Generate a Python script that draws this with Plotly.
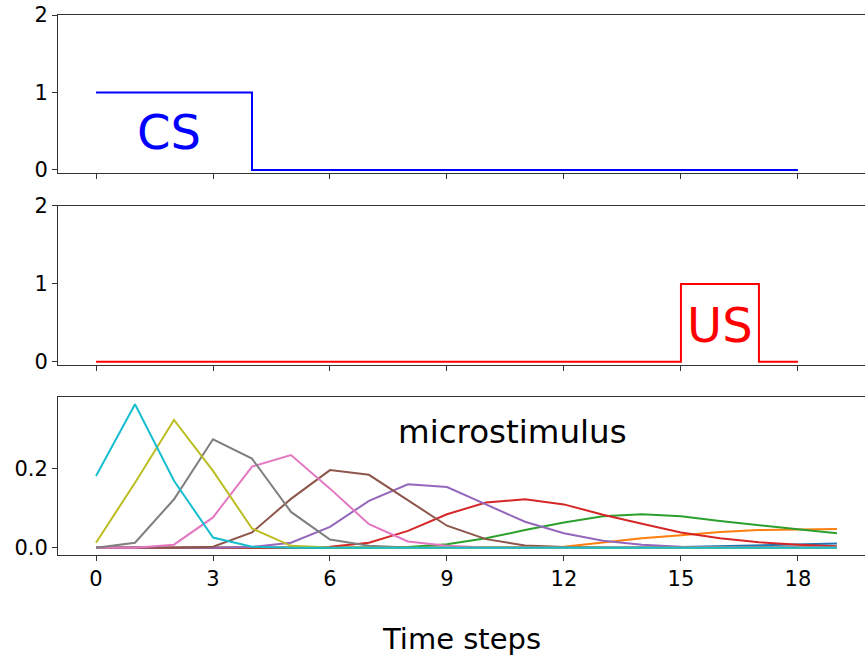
import plotly.graph_objects as go

# ---- data ----
t_stim = list(range(19))
cs = [1, 1, 1, 1] + [0] * 15
us = [0] * 15 + [1, 1, 0, 0]

t_micro = list(range(20))
micro_blue   = [0, 0, 0, 0, 0, 0, 0, 0, 0, 0, 0, 0, 0, 0, 0.001, 0.002, 0.004, 0.006, 0.008, 0.011]
micro_orange = [0, 0, 0, 0, 0, 0, 0, 0, 0, 0, 0, 0.001, 0.003, 0.013, 0.024, 0.032, 0.040, 0.045, 0.047, 0.048]
micro_green  = [0, 0, 0, 0, 0, 0, 0, 0, 0.002, 0.009, 0.024, 0.045, 0.064, 0.080, 0.085, 0.080, 0.068, 0.057, 0.047, 0.037]
micro_red    = [0, 0, 0, 0, 0, 0, 0.003, 0.013, 0.043, 0.085, 0.115, 0.123, 0.110, 0.084, 0.061, 0.039, 0.024, 0.014, 0.008, 0.004]
micro_purple = [0, 0, 0, 0, 0.002, 0.013, 0.053, 0.119, 0.161, 0.154, 0.110, 0.066, 0.037, 0.018, 0.008, 0.003, 0.002, 0.001, 0.001, 0.001]
micro_brown  = [0, 0, 0, 0.003, 0.039, 0.124, 0.197, 0.185, 0.120, 0.056, 0.022, 0.006, 0.002, 0, 0, 0, 0, 0, 0, 0]
micro_pink   = [0, 0, 0.008, 0.077, 0.206, 0.235, 0.150, 0.060, 0.016, 0.005, 0.001, 0, 0, 0, 0, 0, 0, 0, 0, 0]
micro_gray   = [0, 0.013, 0.123, 0.275, 0.226, 0.091, 0.021, 0.005, 0.001, 0, 0, 0, 0, 0, 0, 0, 0, 0, 0, 0]
micro_olive  = [0.013, 0.165, 0.324, 0.195, 0.049, 0.005, 0.001, 0, 0, 0, 0, 0, 0, 0, 0, 0, 0, 0, 0, 0]
micro_cyan   = [0.182, 0.364, 0.170, 0.026, 0.003, 0, 0, 0, 0, 0, 0, 0, 0, 0, 0, 0, 0, 0, 0, 0]

micro_series = [micro_blue, micro_orange, micro_green, micro_red, micro_purple,
                micro_brown, micro_pink, micro_gray, micro_olive, micro_cyan]
micro_colors = ["#1f77b4", "#ff7f0e", "#2ca02c", "#d62728", "#9467bd",
                "#8c564b", "#e377c2", "#7f7f7f", "#bcbd22", "#17becf"]

x_ticks = [0, 3, 6, 9, 12, 15, 18]

FONT = "DejaVu Sans"
AX = "#333333"

fig = go.Figure()
fig.add_trace(go.Scatter(x=t_stim, y=cs, mode="lines", line=dict(color="blue", width=2, shape="hv"),
                         xaxis="x", yaxis="y", showlegend=False))
fig.add_trace(go.Scatter(x=t_stim, y=us, mode="lines", line=dict(color="red", width=2, shape="hv"),
                         xaxis="x2", yaxis="y2", showlegend=False))
for ys, c in zip(micro_series, micro_colors):
    fig.add_trace(go.Scatter(x=t_micro, y=ys, mode="lines", line=dict(color=c, width=2),
                             xaxis="x3", yaxis="y3", showlegend=False))

xcommon = dict(range=[-0.975, 19.72], tickvals=x_ticks, showgrid=False, zeroline=False,
               showline=True, linecolor=AX, linewidth=1, mirror=True,
               ticks="outside", ticklen=5, tickcolor=AX, tickwidth=1,
               tickfont=dict(family=FONT, size=21, color="black"))
ycommon = dict(showgrid=False, zeroline=False, showline=True, linecolor=AX, linewidth=1,
               ticks="outside", ticklen=5, tickcolor=AX, tickwidth=1,
               tickfont=dict(family=FONT, size=21, color="black"))

fig.update_layout(
    width=865, height=658,
    margin=dict(l=58, r=0, t=15, b=103),
    paper_bgcolor="white", plot_bgcolor="white",
    font=dict(family=FONT, color="black"),
    xaxis=dict(**xcommon, domain=[0, 1], anchor="y", showticklabels=False),
    xaxis2=dict(**xcommon, domain=[0, 1], anchor="y2", showticklabels=False, matches="x"),
    xaxis3=dict(**xcommon, domain=[0, 1], anchor="y3", matches="x"),
    yaxis=dict(**ycommon, domain=[0.7074, 1.0], range=[-0.04, 2.0], tickvals=[0, 1, 2], anchor="x"),
    yaxis2=dict(**ycommon, domain=[0.3519, 0.6463], range=[-0.04, 2.0], tickvals=[0, 1, 2], anchor="x2"),
    yaxis3=dict(**ycommon, domain=[0, 0.2926], range=[-0.0182, 0.3822], tickvals=[0.0, 0.2],
                ticktext=["0.0", "0.2"], anchor="x3"),
    annotations=[
        dict(text="CS", x=1.87, y=0.49, xref="x", yref="y", showarrow=False,
             font=dict(family=FONT, size=48, color="blue"), xanchor="center", yanchor="middle"),
        dict(text="US", x=16.0, y=0.47, xref="x2", yref="y2", showarrow=False,
             font=dict(family=FONT, size=48, color="red"), xanchor="center", yanchor="middle"),
        dict(text="microstimulus", x=10.68, y=0.293, xref="x3", yref="y3", showarrow=False,
             font=dict(family=FONT, size=32.5, color="black"), xanchor="center", yanchor="middle"),
        dict(text="Time steps", x=0.5, y=-0.155, xref="paper", yref="paper", showarrow=False,
             font=dict(family=FONT, size=29, color="black"), xanchor="center", yanchor="middle"),
    ],
)

fig.write_html("out.html")
